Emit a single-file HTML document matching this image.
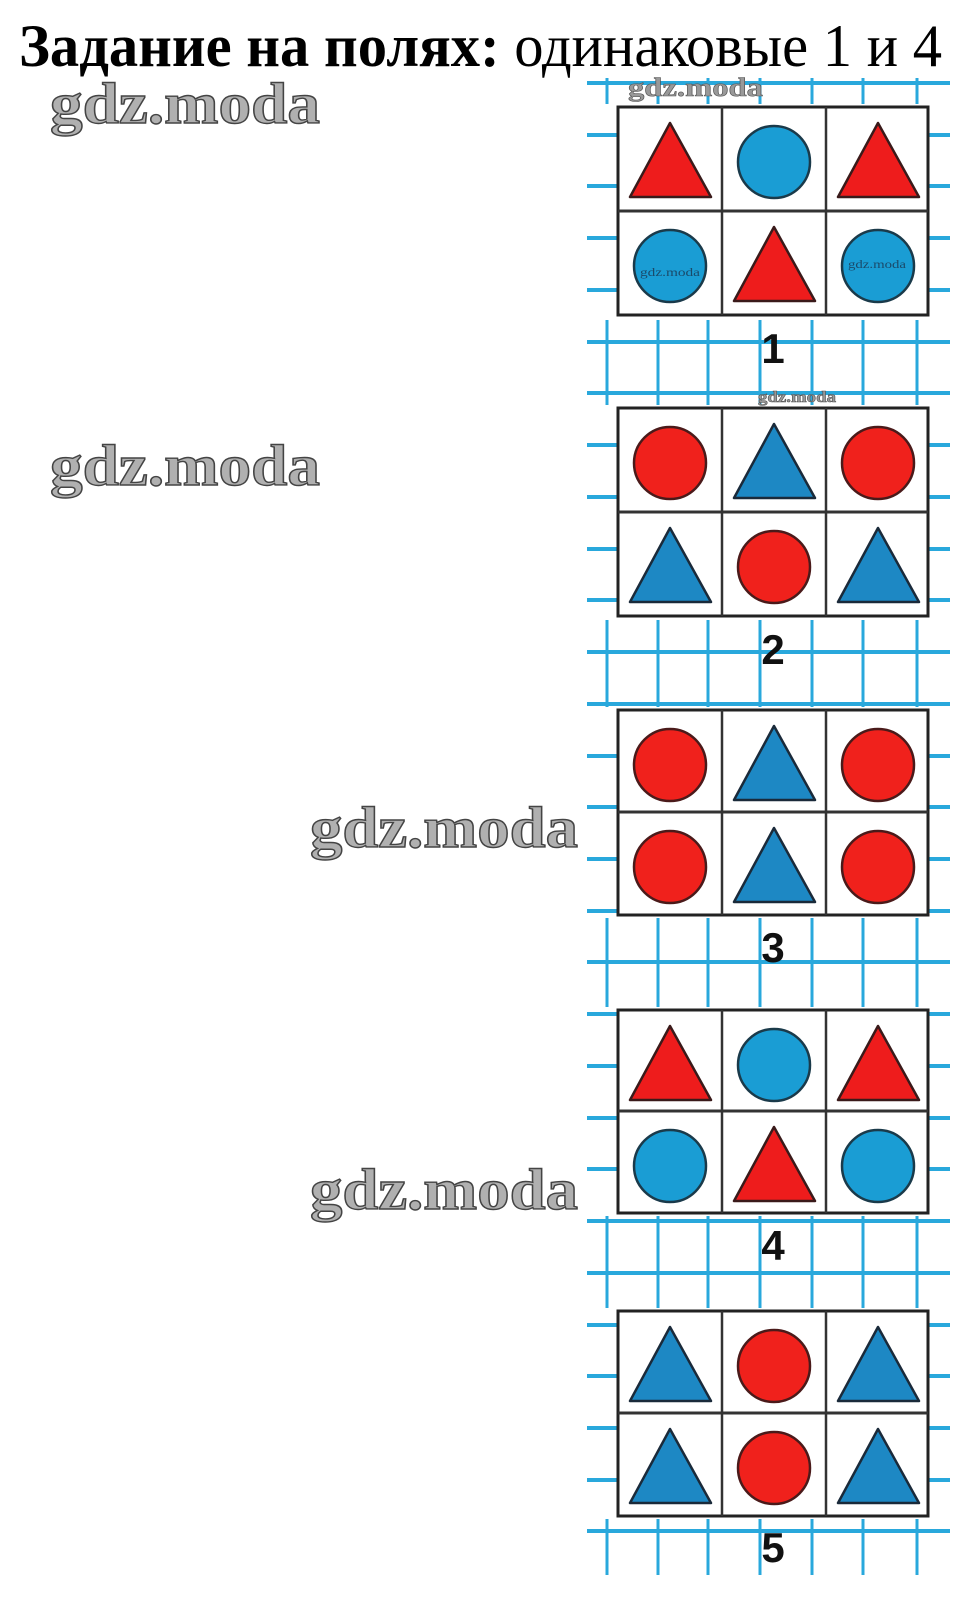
<!DOCTYPE html>
<html><head><meta charset="utf-8"><style>
html,body{margin:0;padding:0;background:#fff;}
svg{display:block;}
</style></head><body>
<svg width="971" height="1623" viewBox="0 0 971 1623" xmlns="http://www.w3.org/2000/svg">
<defs>
<g id="tr"><polygon points="52,16 12,90 93,90" fill="#ee1c1c" stroke="#3a1a1a" stroke-width="2.5" stroke-linejoin="round"/></g>
<g id="tb"><polygon points="52,16 12,90 93,90" fill="#1d88c4" stroke="#1a2a3a" stroke-width="2.5" stroke-linejoin="round"/></g>
<g id="cr"><circle cx="52" cy="55" r="36" fill="#f0211c" stroke="#4a1a1a" stroke-width="2.5"/></g>
<g id="cb"><circle cx="52" cy="55" r="36" fill="#1a9dd4" stroke="#1a3a4a" stroke-width="2.5"/></g>
</defs>

<g stroke="#29a8dc" stroke-width="3">
<line x1="607" y1="78" x2="607" y2="1575"/>
<line x1="658" y1="78" x2="658" y2="1575"/>
<line x1="708" y1="78" x2="708" y2="1575"/>
<line x1="760" y1="78" x2="760" y2="1575"/>
<line x1="812" y1="78" x2="812" y2="1575"/>
<line x1="863" y1="78" x2="863" y2="1575"/>
<line x1="917" y1="78" x2="917" y2="1575"/>
</g>
<g fill="#fff">
<rect x="590" y="104" width="360" height="216"/>
<rect x="590" y="405" width="360" height="215"/>
<rect x="590" y="707" width="360" height="211"/>
<rect x="590" y="1007" width="360" height="209"/>
<rect x="590" y="1308" width="360" height="211"/>
</g>
<g stroke="#29a8dc" stroke-width="4">
<line x1="587" y1="83" x2="950" y2="83"/><line x1="587" y1="135" x2="950" y2="135"/><line x1="587" y1="186" x2="950" y2="186"/><line x1="587" y1="238" x2="950" y2="238"/><line x1="587" y1="290" x2="950" y2="290"/><line x1="587" y1="342" x2="950" y2="342"/><line x1="587" y1="393" x2="950" y2="393"/><line x1="587" y1="445" x2="950" y2="445"/><line x1="587" y1="497" x2="950" y2="497"/><line x1="587" y1="549" x2="950" y2="549"/><line x1="587" y1="600" x2="950" y2="600"/><line x1="587" y1="652" x2="950" y2="652"/><line x1="587" y1="704" x2="950" y2="704"/><line x1="587" y1="756" x2="950" y2="756"/><line x1="587" y1="807" x2="950" y2="807"/><line x1="587" y1="859" x2="950" y2="859"/><line x1="587" y1="911" x2="950" y2="911"/><line x1="587" y1="962" x2="950" y2="962"/><line x1="587" y1="1014" x2="950" y2="1014"/><line x1="587" y1="1066" x2="950" y2="1066"/><line x1="587" y1="1118" x2="950" y2="1118"/><line x1="587" y1="1169" x2="950" y2="1169"/><line x1="587" y1="1221" x2="950" y2="1221"/><line x1="587" y1="1273" x2="950" y2="1273"/><line x1="587" y1="1325" x2="950" y2="1325"/><line x1="587" y1="1376" x2="950" y2="1376"/><line x1="587" y1="1428" x2="950" y2="1428"/><line x1="587" y1="1480" x2="950" y2="1480"/><line x1="587" y1="1531" x2="950" y2="1531"/>
</g>

<g transform="translate(618,107)">
<rect x="0" y="0" width="310" height="208" fill="#fff" stroke="#222" stroke-width="3"/>
<line x1="104" y1="0" x2="104" y2="208" stroke="#333" stroke-width="2.5"/><line x1="208" y1="0" x2="208" y2="208" stroke="#333" stroke-width="2.5"/><line x1="0" y1="104" x2="310" y2="104" stroke="#333" stroke-width="3"/>
<use href="#tr" x="0" y="0"/><use href="#cb" x="104" y="0"/><use href="#tr" x="208" y="0"/>
<use href="#cb" x="0" y="104"/><use href="#tr" x="104" y="104"/><use href="#cb" x="208" y="104"/>
</g>
<g transform="translate(618,408)">
<rect x="0" y="0" width="310" height="208" fill="#fff" stroke="#222" stroke-width="3"/>
<line x1="104" y1="0" x2="104" y2="208" stroke="#333" stroke-width="2.5"/><line x1="208" y1="0" x2="208" y2="208" stroke="#333" stroke-width="2.5"/><line x1="0" y1="104" x2="310" y2="104" stroke="#333" stroke-width="3"/>
<use href="#cr" x="0" y="0"/><use href="#tb" x="104" y="0"/><use href="#cr" x="208" y="0"/>
<use href="#tb" x="0" y="104"/><use href="#cr" x="104" y="104"/><use href="#tb" x="208" y="104"/>
</g>
<g transform="translate(618,710)">
<rect x="0" y="0" width="310" height="205" fill="#fff" stroke="#222" stroke-width="3"/>
<line x1="104" y1="0" x2="104" y2="205" stroke="#333" stroke-width="2.5"/><line x1="208" y1="0" x2="208" y2="205" stroke="#333" stroke-width="2.5"/><line x1="0" y1="102" x2="310" y2="102" stroke="#333" stroke-width="3"/>
<use href="#cr" x="0" y="0"/><use href="#tb" x="104" y="0"/><use href="#cr" x="208" y="0"/>
<use href="#cr" x="0" y="102"/><use href="#tb" x="104" y="102"/><use href="#cr" x="208" y="102"/>
</g>
<g transform="translate(618,1010)">
<rect x="0" y="0" width="310" height="203" fill="#fff" stroke="#222" stroke-width="3"/>
<line x1="104" y1="0" x2="104" y2="203" stroke="#333" stroke-width="2.5"/><line x1="208" y1="0" x2="208" y2="203" stroke="#333" stroke-width="2.5"/><line x1="0" y1="101" x2="310" y2="101" stroke="#333" stroke-width="3"/>
<use href="#tr" x="0" y="0"/><use href="#cb" x="104" y="0"/><use href="#tr" x="208" y="0"/>
<use href="#cb" x="0" y="101"/><use href="#tr" x="104" y="101"/><use href="#cb" x="208" y="101"/>
</g>
<g transform="translate(618,1311)">
<rect x="0" y="0" width="310" height="205" fill="#fff" stroke="#222" stroke-width="3"/>
<line x1="104" y1="0" x2="104" y2="205" stroke="#333" stroke-width="2.5"/><line x1="208" y1="0" x2="208" y2="205" stroke="#333" stroke-width="2.5"/><line x1="0" y1="102" x2="310" y2="102" stroke="#333" stroke-width="3"/>
<use href="#tb" x="0" y="0"/><use href="#cr" x="104" y="0"/><use href="#tb" x="208" y="0"/>
<use href="#tb" x="0" y="102"/><use href="#cr" x="104" y="102"/><use href="#tb" x="208" y="102"/>
</g>

<g font-family="Liberation Sans, sans-serif" font-weight="bold" font-size="42" fill="#111" text-anchor="middle">
<text x="773" y="363">1</text>
<text x="773" y="664">2</text>
<text x="773" y="962">3</text>
<text x="773" y="1260">4</text>
<text x="773" y="1562">5</text>
</g>

<text x="19" y="66" font-family="Liberation Serif, serif" font-size="60" fill="#000" textLength="923" lengthAdjust="spacingAndGlyphs"><tspan font-weight="bold">Задание на полях:</tspan> одинаковые 1 и 4</text>

<g font-family="Liberation Serif, serif" font-weight="bold" font-size="58" fill="#b0b0b0" stroke="#444" stroke-width="1.4">
<text x="50" y="123" textLength="270" lengthAdjust="spacingAndGlyphs">gdz.moda</text>
<text x="50" y="485" textLength="270" lengthAdjust="spacingAndGlyphs">gdz.moda</text>
<text x="310" y="847" textLength="268" lengthAdjust="spacingAndGlyphs">gdz.moda</text>
<text x="310" y="1209" textLength="268" lengthAdjust="spacingAndGlyphs">gdz.moda</text>
</g>
<g font-family="Liberation Serif, serif" font-weight="bold" fill="#999" stroke="#555" stroke-width="0.6">
<text x="628" y="96" font-size="26" textLength="135" lengthAdjust="spacingAndGlyphs">gdz.moda</text>
<text x="758" y="402" font-size="16" textLength="78" lengthAdjust="spacingAndGlyphs">gdz.moda</text>
</g>
<g font-family="Liberation Serif, serif" font-size="12" fill="#1a4a6a">
<text x="640" y="276" textLength="60" lengthAdjust="spacingAndGlyphs">gdz.moda</text>
<text x="848" y="268" textLength="58" lengthAdjust="spacingAndGlyphs">gdz.moda</text>
</g>
</svg>
</body></html>
